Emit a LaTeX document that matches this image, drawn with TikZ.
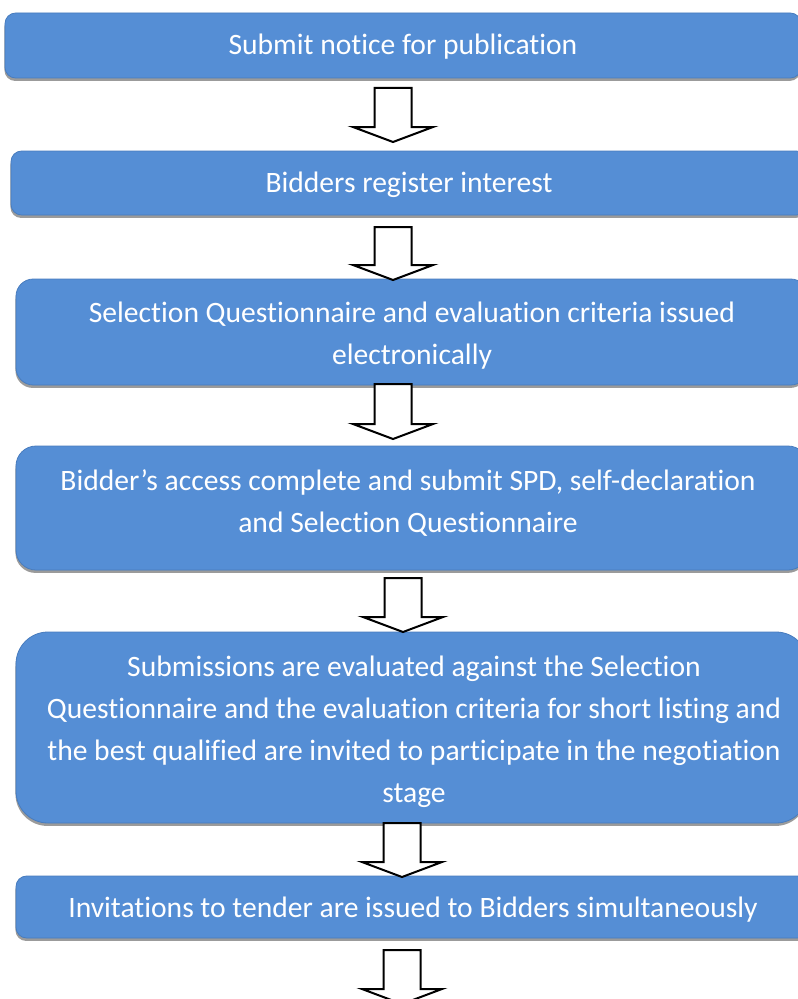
\documentclass[tikz,border=0pt]{standalone}
\usepackage{fontspec}
\setmainfont{Carlito}[Ligatures=NoCommon]
\usetikzlibrary{fit}
\definecolor{boxblue}{RGB}{85,142,213}
\definecolor{boxedge}{RGB}{72,124,190}
\definecolor{shadowgray}{RGB}{155,155,155}
\newcommand\blockarrow[3]{% cx, ytop, ytip
  \draw[barrow] (#1-18.5,#2) -- (#1+18.5,#2) -- (#1+18.5,#3-15) -- (#1+40,#3-15)
    -- (#1,#3) -- (#1-40,#3-15) -- (#1-18.5,#3-15) -- cycle;}
\begin{document}
\begin{tikzpicture}[x=0.75pt,y=-0.75pt,
  box/.style={draw=boxedge, line width=0.6pt, fill=boxblue, inner sep=0pt,
    preaction={fill=shadowgray, transform canvas={xshift=-0.4pt,yshift=-2.2pt}}},
  lbl/.style={text=white, align=center, font=\fontsize{22.2}{31.5}\selectfont, inner sep=0pt},
  barrow/.style={draw=black, fill=white, line width=1.5pt, line join=miter}]
\path[use as bounding box] (0,0) rectangle (798,999);
\begin{scope}
\clip (0,0) rectangle (798,999);
\fill[white] (0,0) rectangle (798,999);
% boxes
\node[box, rounded corners=8pt, fit={(5,13)(801,78)}] (b1) {};
\node[box, rounded corners=8pt, fit={(11,151)(807,215)}] (b2) {};
\node[box, rounded corners=13pt, fit={(16,279)(808,385)}] (b3) {};
\node[box, rounded corners=15pt, fit={(16,446)(808,570)}] (b4) {};
\node[box, rounded corners=24pt, fit={(16,632)(808,823)}] (b5) {};
\node[box, rounded corners=8pt, fit={(16,876)(808,938)}] (b6) {};
% texts
\node[lbl] (t1) at (403,47) {Submit notice for publication};
\node[lbl] (t2) at (409,185) {Bidders register interest};
\node[lbl] (t3) at (412,336) {Selection Questionnaire and evaluation criteria issued\\electronically};
\node[lbl] (t4) at (408,503) {Bidder’s access complete and submit SPD, self-declaration\\and Selection Questionnaire};
\node[lbl] (t5) at (414,732) {Submissions are evaluated against the Selection\\Questionnaire and the evaluation criteria for short listing and\\the best qualified are invited to participate in the negotiation\\stage};
\node[lbl] (t6) at (413,910) {Invitations to tender are issued to Bidders simultaneously};
% block arrows
\blockarrow{393}{88}{142}
\blockarrow{393}{227}{280}
\blockarrow{393}{384}{439}
\blockarrow{403}{578}{632}
\blockarrow{402}{823}{877}
\blockarrow{402}{950}{1004}
\end{scope}
\end{tikzpicture}
\end{document}
